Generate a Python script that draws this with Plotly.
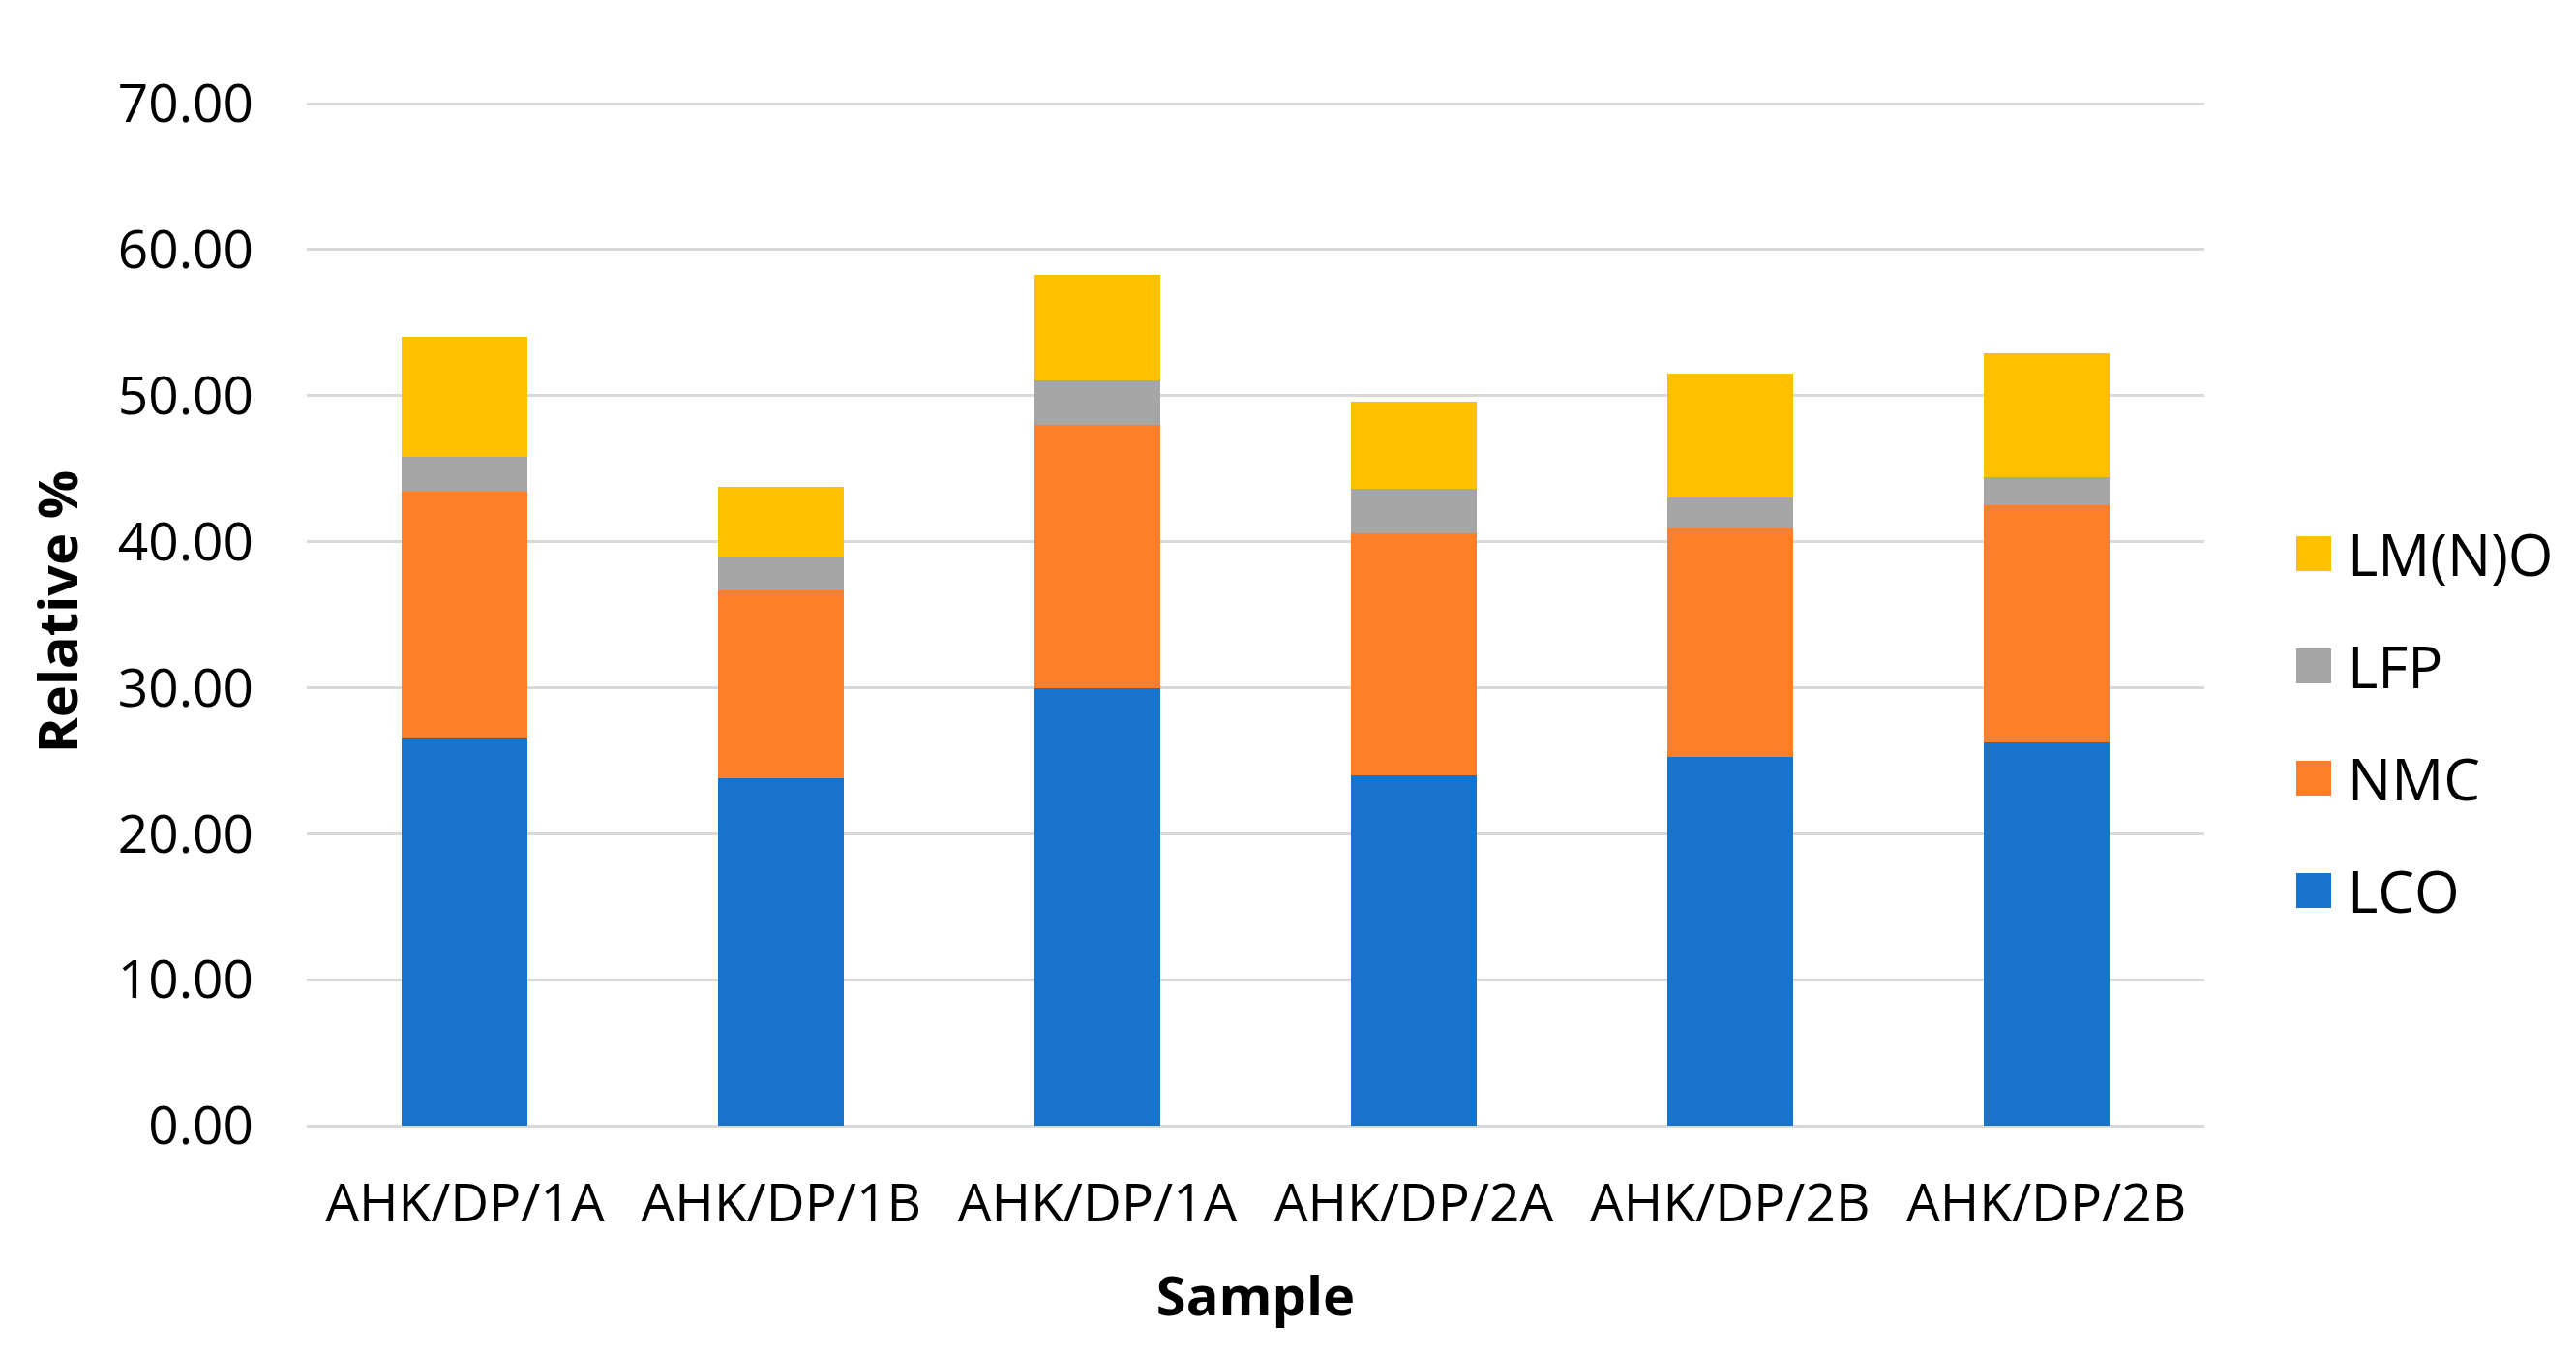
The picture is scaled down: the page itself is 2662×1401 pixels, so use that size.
import plotly.graph_objects as go

samples = ["AHK/DP/1A", "AHK/DP/1B", "AHK/DP/1A", "AHK/DP/2A", "AHK/DP/2B", "AHK/DP/2B"]
lco = [26.53, 23.78, 29.99, 24.02, 25.25, 26.24]
nmc = [16.86, 12.88, 18.00, 16.58, 15.68, 16.25]
lfp = [2.42, 2.28, 3.08, 3.03, 2.08, 1.90]
lmno = [8.19, 4.78, 7.20, 5.97, 8.48, 8.48]

series_names = ["LCO", "NMC", "LFP", "LM(N)O"]
series_values = [lco, nmc, lfp, lmno]
series_colors = ["#1874CB", "#FE7F2A", "#A6A6A6", "#FFC000"]

y_ticks = [0, 10, 20, 30, 40, 50, 60, 70]
x_pos = list(range(len(samples)))

FONT = "Open Sans"

# page has an 8px body margin; figure sized to fit inside the window
W, H = 2646, 1385
OFF = 8
Y_TOP = 70.4  # a little headroom so the 70 gridline is drawn
PX0, PX1 = 317, 2278
PY1 = 1163  # y=0 in screenshot pixels
PPU = (1163 - 107) / 70.0  # pixels per unit
PY0 = PY1 - Y_TOP * PPU  # top of plot area in screenshot pixels


def paper_x(sx):
    return (sx - PX0) / (PX1 - PX0)


def paper_y(sy):
    return (PY1 - sy) / (PY1 - PY0)


fig = go.Figure()
for name, vals, col in zip(series_names, series_values, series_colors):
    fig.add_trace(go.Bar(x=x_pos, y=vals, name=name, marker=dict(color=col, line=dict(width=0)),
                         width=0.398, showlegend=False))

# legend drawn manually (large square swatches like the original)
leg_y = [920, 804, 688, 572]  # LCO bottom -> LM(N)O top, screenshot pixels
for name, col, yp in zip(series_names, series_colors, leg_y):
    fig.add_shape(type="rect", xref="paper", yref="paper",
                  x0=paper_x(2373), x1=paper_x(2409),
                  y0=paper_y(yp + 18), y1=paper_y(yp - 18),
                  fillcolor=col, line=dict(width=0))
    fig.add_annotation(xref="paper", yref="paper",
                       x=paper_x(2424), y=paper_y(yp),
                       text=name, showarrow=False, xanchor="left", yanchor="middle",
                       font=dict(family=FONT, size=60, color="#000000"))

fig.update_layout(
    width=W, height=H,
    barmode="stack",
    paper_bgcolor="white", plot_bgcolor="white",
    margin=dict(l=PX0 - OFF, r=W - (PX1 - OFF), t=PY0 - OFF, b=H - (PY1 - OFF), autoexpand=False),
    font=dict(family=FONT, color="#000000"),
    showlegend=False,
)
fig.update_xaxes(
    range=[-0.5, len(samples) - 0.5],
    tickmode="array", tickvals=x_pos, ticktext=samples,
    tickfont=dict(family=FONT, size=55, color="#000000"),
    showgrid=False, zeroline=False, showline=False, ticks="",
    ticklabelstandoff=43,
    title=dict(text="<b>Sample</b>", font=dict(family=FONT, size=56, color="#000000"), standoff=42),
)
fig.update_yaxes(
    range=[0, Y_TOP],
    tickmode="array", tickvals=y_ticks, ticktext=[f"{v:.2f}" for v in y_ticks],
    tickfont=dict(family=FONT, size=55, color="#000000"),
    showgrid=True, gridcolor="#D9D9D9", gridwidth=3,
    zeroline=True, zerolinecolor="#D9D9D9", zerolinewidth=3,
    showline=False, ticks="",
    ticklabelstandoff=54,
    title=dict(text="<b>Relative %</b>", font=dict(family=FONT, size=56, color="#000000"), standoff=23),
)

fig.write_html("out.html")
